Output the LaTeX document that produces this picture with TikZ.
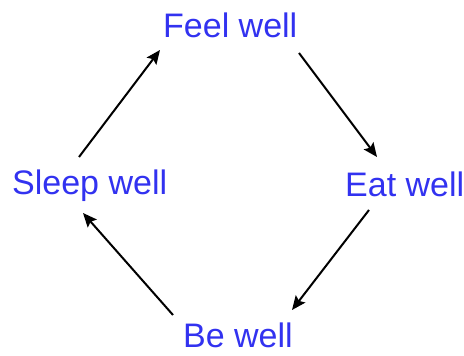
\documentclass[tikz,border=0pt]{standalone}
\usepackage{fontspec}
\setmainfont{Liberation Sans}
\usetikzlibrary{arrows.meta}
\definecolor{txtblue}{RGB}{50,50,240}
\begin{document}
\begin{tikzpicture}[x=1pt,y=1pt,
  lbl/.style={anchor=base west,inner sep=0pt,text=txtblue,font=\fontsize{34}{37}\selectfont},
  arr/.style={line width=2pt,-{Stealth[length=14pt,width=12pt,inset=2.5pt]}}]
\useasboundingbox (0,0) rectangle (464,356);
\node[lbl] (feel) at (163,318) {Feel well};
\node[lbl] (eat) at (345,159) {Eat well};
\node[lbl] (be) at (183,8) {Be well};
\node[lbl] (sleep) at (12,161) {Sleep well};
\coordinate (s1) at (79,199); \coordinate (e1) at (160,306);
\coordinate (s2) at (299,303); \coordinate (e2) at (377,199);
\coordinate (s3) at (369,146); \coordinate (e3) at (292,46);
\coordinate (s4) at (173,41); \coordinate (e4) at (83,143);
\draw[arr] (s1) -- (e1);
\draw[arr] (s2) -- (e2);
\draw[arr] (s3) -- (e3);
\draw[arr] (s4) -- (e4);
\end{tikzpicture}
\end{document}
